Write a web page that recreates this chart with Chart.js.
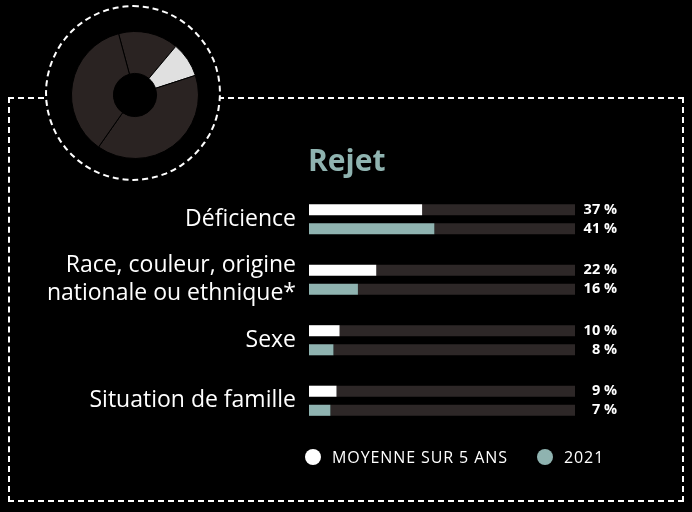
<!DOCTYPE html>
<html><head><meta charset="utf-8">
<script src="https://cdn.jsdelivr.net/npm/chart.js@4"></script>
<style>
html,body{margin:0;padding:0;background:#000;width:692px;height:512px;overflow:hidden}
#box{position:absolute;left:8px;top:97px;width:672px;height:401px;border:2px dashed #fff}
#circ{position:absolute;left:45px;top:5px;width:176px;height:176px;border-radius:50%;border:2px dashed #fff;background:#000;box-sizing:border-box}
#bars{position:absolute;left:0;top:0}
#pie{position:absolute;left:71px;top:31px}
</style></head><body>
<div id="box"></div>
<canvas id="bars" width="692" height="512"></canvas>
<div id="circ"></div>
<canvas id="pie" width="128" height="128"></canvas>
<script>
const categories = ["Déficience", ["Race, couleur, origine", "nationale ou ethnique*"], "Sexe", "Situation de famille"];
const avg5 = [37, 22, 10, 9];
const y2021 = [41, 16, 8, 7];
const trackMax = 87;
const pieValues = [55, 32, 143, 130];
const legendLabels = ["MOYENNE SUR 5 ANS", "2021"];
const track = '#2d2727', teal = '#8fb3b0';
const font = "'Open Sans', sans-serif";

const overlay = {
  id:'overlay',
  afterDraw(c){
    const ctx=c.ctx;
    ctx.save();
    ctx.fillStyle=teal; ctx.font="bold 30px "+font; ctx.textBaseline='alphabetic'; ctx.textAlign='left';
    ctx.fillText("Rejet",308,171);
    ctx.fillStyle='#fff'; ctx.font="bold 14.5px "+font; ctx.textAlign='right'; ctx.textBaseline='middle';
    [[0,avg5],[2,y2021]].forEach(([di,vals])=>{
      c.getDatasetMeta(di).data.forEach((b,i)=>ctx.fillText(vals[i]+" %",617,b.y));
    });
    ctx.textAlign='left'; ctx.font="16px "+font;
    if('letterSpacing' in ctx) ctx.letterSpacing='0.9px';
    ctx.beginPath();ctx.arc(313,457,8,0,Math.PI*2);ctx.fillStyle='#fff';ctx.fill();
    ctx.fillText(legendLabels[0],332,458);
    ctx.beginPath();ctx.arc(545,457,8,0,Math.PI*2);ctx.fillStyle=teal;ctx.fill();
    ctx.fillStyle='#fff';ctx.fillText(legendLabels[1],564,458);
    ctx.restore();
  }
};

new Chart(document.getElementById('bars'),{
  type:'bar',
  data:{labels:categories,datasets:[
    {data:avg5,backgroundColor:'#fff',stack:'a'},
    {data:avg5.map(v=>trackMax-v),backgroundColor:track,stack:'a'},
    {data:y2021,backgroundColor:teal,stack:'b'},
    {data:y2021.map(v=>trackMax-v),backgroundColor:track,stack:'b'}
  ]},
  options:{
    indexAxis:'y',responsive:false,animation:false,
    layout:{padding:{left:9,right:117,top:189,bottom:81}},
    datasets:{bar:{categoryPercentage:0.63,barPercentage:0.58,borderWidth:0}},
    plugins:{legend:{display:false},tooltip:{enabled:false}},
    scales:{
      x:{display:false,stacked:true,min:0,max:trackMax},
      y:{stacked:true,grid:{display:false},border:{display:false},
         afterFit(s){s.width=300;},
         ticks:{color:'#fff',font:{family:font,size:23},padding:5}}
    }
  },
  plugins:[overlay]
});

new Chart(document.getElementById('pie'),{
  type:'doughnut',
  data:{datasets:[{data:pieValues,backgroundColor:['#2a2322','#e0e0e0','#2a2322','#2a2322'],borderColor:'#000',borderWidth:1}]},
  options:{responsive:false,animation:false,rotation:-15,cutout:'34%',
    plugins:{legend:{display:false},tooltip:{enabled:false}}}
});
</script>
</body></html>
